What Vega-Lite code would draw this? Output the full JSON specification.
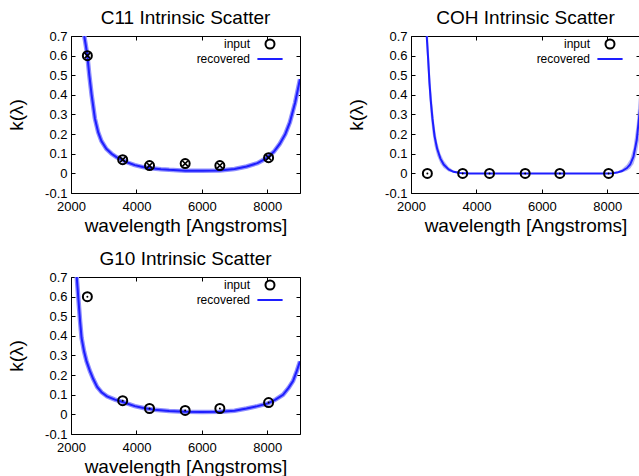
{
  "$schema": "https://vega.github.io/schema/vega-lite/v6.json",
  "padding": {"left": 7, "top": 8, "right": 0, "bottom": 0},
  "background": "white",
  "config": {
    "font": "Liberation Sans",
    "view": {"stroke": "black", "strokeWidth": 1},
    "axis": {"domain": false, "grid": false, "tickSize": -4, "tickColor": "black", "tickWidth": 1, "labelColor": "black", "labelFontSize": 13, "labelFont": "Liberation Sans", "titleFontSize": 19, "titleFontWeight": "normal", "titleFont": "Liberation Sans", "titleColor": "black", "labelFlush": false},
    "axisY": {"titlePadding": 18, "labelPadding": 8},
    "axisX": {"titlePadding": 3, "labelPadding": 11},
    "title": {"fontSize": 19, "fontWeight": "normal", "font": "Liberation Sans", "color": "black", "offset": 2},
    "legend": {"orient": "none", "legendX": 193, "legendY": 2, "labelAlign": "right", "labelOffset": -26, "labelFontSize": 12, "labelFont": "Liberation Sans", "labelColor": "black", "symbolSize": 81, "symbolStrokeWidth": 2, "rowPadding": 0, "padding": 0, "title": null}
  },
  "datasets": {
    "curves": [
      {"panel": "C11", "series": "recovered", "wavelength": 2405, "k": 0.70, "klo": 0.70, "khi": 0.70},
      {"panel": "C11", "series": "recovered", "wavelength": 2450, "k": 0.655, "klo": 0.655, "khi": 0.655},
      {"panel": "C11", "series": "recovered", "wavelength": 2500, "k": 0.60, "klo": 0.60, "khi": 0.60},
      {"panel": "C11", "series": "recovered", "wavelength": 2560, "k": 0.50, "klo": 0.50, "khi": 0.50},
      {"panel": "C11", "series": "recovered", "wavelength": 2630, "k": 0.40, "klo": 0.40, "khi": 0.40},
      {"panel": "C11", "series": "recovered", "wavelength": 2730, "k": 0.28, "klo": 0.28, "khi": 0.28},
      {"panel": "C11", "series": "recovered", "wavelength": 2830, "k": 0.21, "klo": 0.21, "khi": 0.21},
      {"panel": "C11", "series": "recovered", "wavelength": 2930, "k": 0.165, "klo": 0.165, "khi": 0.165},
      {"panel": "C11", "series": "recovered", "wavelength": 3080, "k": 0.125, "klo": 0.125, "khi": 0.125},
      {"panel": "C11", "series": "recovered", "wavelength": 3240, "k": 0.10, "klo": 0.10, "khi": 0.10},
      {"panel": "C11", "series": "recovered", "wavelength": 3400, "k": 0.082, "klo": 0.082, "khi": 0.082},
      {"panel": "C11", "series": "recovered", "wavelength": 3550, "k": 0.070, "klo": 0.070, "khi": 0.070},
      {"panel": "C11", "series": "recovered", "wavelength": 3750, "k": 0.054, "klo": 0.054, "khi": 0.054},
      {"panel": "C11", "series": "recovered", "wavelength": 3950, "k": 0.042, "klo": 0.042, "khi": 0.042},
      {"panel": "C11", "series": "recovered", "wavelength": 4200, "k": 0.032, "klo": 0.032, "khi": 0.032},
      {"panel": "C11", "series": "recovered", "wavelength": 4450, "k": 0.026, "klo": 0.026, "khi": 0.026},
      {"panel": "C11", "series": "recovered", "wavelength": 4750, "k": 0.021, "klo": 0.021, "khi": 0.021},
      {"panel": "C11", "series": "recovered", "wavelength": 5000, "k": 0.018, "klo": 0.018, "khi": 0.018},
      {"panel": "C11", "series": "recovered", "wavelength": 5500, "k": 0.014, "klo": 0.014, "khi": 0.014},
      {"panel": "C11", "series": "recovered", "wavelength": 6000, "k": 0.013, "klo": 0.013, "khi": 0.013},
      {"panel": "C11", "series": "recovered", "wavelength": 6550, "k": 0.015, "klo": 0.015, "khi": 0.015},
      {"panel": "C11", "series": "recovered", "wavelength": 7000, "k": 0.022, "klo": 0.022, "khi": 0.022},
      {"panel": "C11", "series": "recovered", "wavelength": 7370, "k": 0.035, "klo": 0.035, "khi": 0.035},
      {"panel": "C11", "series": "recovered", "wavelength": 7700, "k": 0.052, "klo": 0.052, "khi": 0.052},
      {"panel": "C11", "series": "recovered", "wavelength": 7980, "k": 0.078, "klo": 0.078, "khi": 0.078},
      {"panel": "C11", "series": "recovered", "wavelength": 8200, "k": 0.11, "klo": 0.11, "khi": 0.11},
      {"panel": "C11", "series": "recovered", "wavelength": 8380, "k": 0.15, "klo": 0.15, "khi": 0.15},
      {"panel": "C11", "series": "recovered", "wavelength": 8550, "k": 0.20, "klo": 0.20, "khi": 0.20},
      {"panel": "C11", "series": "recovered", "wavelength": 8690, "k": 0.26, "klo": 0.26, "khi": 0.26},
      {"panel": "C11", "series": "recovered", "wavelength": 8850, "k": 0.36, "klo": 0.36, "khi": 0.36},
      {"panel": "C11", "series": "recovered", "wavelength": 9000, "k": 0.48, "klo": 0.48, "khi": 0.48},

      {"panel": "COH", "series": "recovered", "wavelength": 2480, "k": 0.70, "klo": 0.62, "khi": 0.80},
      {"panel": "COH", "series": "recovered", "wavelength": 2525, "k": 0.58, "klo": 0.49, "khi": 0.69},
      {"panel": "COH", "series": "recovered", "wavelength": 2565, "k": 0.46, "klo": 0.38, "khi": 0.56},
      {"panel": "COH", "series": "recovered", "wavelength": 2605, "k": 0.37, "klo": 0.29, "khi": 0.45},
      {"panel": "COH", "series": "recovered", "wavelength": 2655, "k": 0.28, "klo": 0.21, "khi": 0.35},
      {"panel": "COH", "series": "recovered", "wavelength": 2720, "k": 0.19, "klo": 0.14, "khi": 0.24},
      {"panel": "COH", "series": "recovered", "wavelength": 2800, "k": 0.125, "klo": 0.09, "khi": 0.16},
      {"panel": "COH", "series": "recovered", "wavelength": 2900, "k": 0.075, "klo": 0.05, "khi": 0.10},
      {"panel": "COH", "series": "recovered", "wavelength": 3000, "k": 0.045, "klo": 0.028, "khi": 0.065},
      {"panel": "COH", "series": "recovered", "wavelength": 3150, "k": 0.02, "klo": 0.01, "khi": 0.032},
      {"panel": "COH", "series": "recovered", "wavelength": 3300, "k": 0.008, "klo": 0.003, "khi": 0.015},
      {"panel": "COH", "series": "recovered", "wavelength": 3500, "k": 0.002, "klo": 0.0, "khi": 0.005},
      {"panel": "COH", "series": "recovered", "wavelength": 3800, "k": 0.0, "klo": 0.0, "khi": 0.001},
      {"panel": "COH", "series": "recovered", "wavelength": 4500, "k": 0.0, "klo": 0.0, "khi": 0.0},
      {"panel": "COH", "series": "recovered", "wavelength": 5500, "k": 0.0, "klo": 0.0, "khi": 0.0},
      {"panel": "COH", "series": "recovered", "wavelength": 6500, "k": 0.0, "klo": 0.0, "khi": 0.0},
      {"panel": "COH", "series": "recovered", "wavelength": 7500, "k": 0.0, "klo": 0.0, "khi": 0.0},
      {"panel": "COH", "series": "recovered", "wavelength": 8000, "k": 0.0, "klo": 0.0, "khi": 0.001},
      {"panel": "COH", "series": "recovered", "wavelength": 8150, "k": 0.001, "klo": 0.0, "khi": 0.003},
      {"panel": "COH", "series": "recovered", "wavelength": 8300, "k": 0.004, "klo": 0.001, "khi": 0.009},
      {"panel": "COH", "series": "recovered", "wavelength": 8450, "k": 0.012, "klo": 0.005, "khi": 0.022},
      {"panel": "COH", "series": "recovered", "wavelength": 8600, "k": 0.027, "klo": 0.013, "khi": 0.045},
      {"panel": "COH", "series": "recovered", "wavelength": 8700, "k": 0.045, "klo": 0.025, "khi": 0.072},
      {"panel": "COH", "series": "recovered", "wavelength": 8800, "k": 0.085, "klo": 0.048, "khi": 0.13},
      {"panel": "COH", "series": "recovered", "wavelength": 8900, "k": 0.17, "klo": 0.10, "khi": 0.25},
      {"panel": "COH", "series": "recovered", "wavelength": 9000, "k": 0.33, "klo": 0.20, "khi": 0.46},

      {"panel": "G10", "series": "recovered", "wavelength": 2175, "k": 0.70, "klo": 0.70, "khi": 0.70},
      {"panel": "G10", "series": "recovered", "wavelength": 2230, "k": 0.58, "klo": 0.58, "khi": 0.58},
      {"panel": "G10", "series": "recovered", "wavelength": 2280, "k": 0.47, "klo": 0.47, "khi": 0.47},
      {"panel": "G10", "series": "recovered", "wavelength": 2323, "k": 0.39, "klo": 0.39, "khi": 0.39},
      {"panel": "G10", "series": "recovered", "wavelength": 2400, "k": 0.32, "klo": 0.32, "khi": 0.32},
      {"panel": "G10", "series": "recovered", "wavelength": 2476, "k": 0.27, "klo": 0.27, "khi": 0.27},
      {"panel": "G10", "series": "recovered", "wavelength": 2580, "k": 0.22, "klo": 0.22, "khi": 0.22},
      {"panel": "G10", "series": "recovered", "wavelength": 2680, "k": 0.18, "klo": 0.18, "khi": 0.18},
      {"panel": "G10", "series": "recovered", "wavelength": 2800, "k": 0.14, "klo": 0.14, "khi": 0.14},
      {"panel": "G10", "series": "recovered", "wavelength": 2933, "k": 0.113, "klo": 0.113, "khi": 0.113},
      {"panel": "G10", "series": "recovered", "wavelength": 3100, "k": 0.092, "klo": 0.092, "khi": 0.092},
      {"panel": "G10", "series": "recovered", "wavelength": 3341, "k": 0.075, "klo": 0.075, "khi": 0.075},
      {"panel": "G10", "series": "recovered", "wavelength": 3600, "k": 0.062, "klo": 0.062, "khi": 0.062},
      {"panel": "G10", "series": "recovered", "wavelength": 3951, "k": 0.042, "klo": 0.042, "khi": 0.042},
      {"panel": "G10", "series": "recovered", "wavelength": 4250, "k": 0.031, "klo": 0.031, "khi": 0.031},
      {"panel": "G10", "series": "recovered", "wavelength": 4561, "k": 0.023, "klo": 0.023, "khi": 0.023},
      {"panel": "G10", "series": "recovered", "wavelength": 5000, "k": 0.017, "klo": 0.017, "khi": 0.017},
      {"panel": "G10", "series": "recovered", "wavelength": 5476, "k": 0.013, "klo": 0.013, "khi": 0.013},
      {"panel": "G10", "series": "recovered", "wavelength": 6000, "k": 0.012, "klo": 0.012, "khi": 0.012},
      {"panel": "G10", "series": "recovered", "wavelength": 6550, "k": 0.013, "klo": 0.013, "khi": 0.013},
      {"panel": "G10", "series": "recovered", "wavelength": 7000, "k": 0.019, "klo": 0.019, "khi": 0.019},
      {"panel": "G10", "series": "recovered", "wavelength": 7366, "k": 0.030, "klo": 0.030, "khi": 0.030},
      {"panel": "G10", "series": "recovered", "wavelength": 7700, "k": 0.042, "klo": 0.042, "khi": 0.042},
      {"panel": "G10", "series": "recovered", "wavelength": 8025, "k": 0.056, "klo": 0.056, "khi": 0.056},
      {"panel": "G10", "series": "recovered", "wavelength": 8250, "k": 0.075, "klo": 0.075, "khi": 0.075},
      {"panel": "G10", "series": "recovered", "wavelength": 8482, "k": 0.10, "klo": 0.10, "khi": 0.10},
      {"panel": "G10", "series": "recovered", "wavelength": 8650, "k": 0.135, "klo": 0.135, "khi": 0.135},
      {"panel": "G10", "series": "recovered", "wavelength": 8787, "k": 0.17, "klo": 0.17, "khi": 0.17},
      {"panel": "G10", "series": "recovered", "wavelength": 8900, "k": 0.22, "klo": 0.22, "khi": 0.22},
      {"panel": "G10", "series": "recovered", "wavelength": 9000, "k": 0.27, "klo": 0.27, "khi": 0.27}
    ],
    "points": [
      {"panel": "C11", "series": "input", "wavelength": 2500, "k": 0.60},
      {"panel": "C11", "series": "input", "wavelength": 3580, "k": 0.07},
      {"panel": "C11", "series": "input", "wavelength": 4400, "k": 0.04},
      {"panel": "C11", "series": "input", "wavelength": 5490, "k": 0.05},
      {"panel": "C11", "series": "input", "wavelength": 6550, "k": 0.04},
      {"panel": "C11", "series": "input", "wavelength": 8040, "k": 0.08},
      {"panel": "COH", "series": "input", "wavelength": 2500, "k": 0.0},
      {"panel": "COH", "series": "input", "wavelength": 3580, "k": 0.0},
      {"panel": "COH", "series": "input", "wavelength": 4400, "k": 0.0},
      {"panel": "COH", "series": "input", "wavelength": 5490, "k": 0.0},
      {"panel": "COH", "series": "input", "wavelength": 6550, "k": 0.0},
      {"panel": "COH", "series": "input", "wavelength": 8040, "k": 0.0},
      {"panel": "G10", "series": "input", "wavelength": 2500, "k": 0.60},
      {"panel": "G10", "series": "input", "wavelength": 3580, "k": 0.07},
      {"panel": "G10", "series": "input", "wavelength": 4400, "k": 0.03},
      {"panel": "G10", "series": "input", "wavelength": 5490, "k": 0.02},
      {"panel": "G10", "series": "input", "wavelength": 6550, "k": 0.03},
      {"panel": "G10", "series": "input", "wavelength": 8040, "k": 0.06}
    ]
  },
  "columns": 2,
  "spacing": {"row": 13, "column": 46},
  "resolve": {
    "scale": {"x": "independent", "y": "independent", "stroke": "independent", "shape": "independent"},
    "legend": {"stroke": "independent", "shape": "independent"}
  },
  "concat": [
    {
      "title": "C11 Intrinsic Scatter",
      "width": 229, "height": 157,
      "resolve": {"axis": {"x": "independent", "y": "independent"}},
      "layer": [
        {
          "encoding": {
            "x": {"field": "wavelength", "type": "quantitative", "scale": {"domain": [2000, 9000], "nice": false, "zero": false}, "axis": {"orient": "bottom", "values": [2000, 4000, 6000, 8000], "format": "d", "title": "wavelength [Angstroms]"}},
            "y": {"field": "k", "type": "quantitative", "scale": {"domain": [-0.1, 0.7], "nice": false, "zero": false}, "axis": {"orient": "left", "values": [-0.1, 0, 0.1, 0.2, 0.3, 0.4, 0.5, 0.6, 0.7], "title": "k(λ)", "labelExpr": "datum.value < 0 ? '-' + format(-datum.value, '.1f') : (datum.value == 0 ? '0' : format(datum.value, '.1f'))"}}
          },
          "layer": [
            {"data": {"name": "curves"}, "transform": [{"filter": "datum.panel == 'C11'"}], "mark": {"type": "line", "clip": true, "color": "#9090ff", "strokeWidth": 4.5}},
            {"data": {"name": "curves"}, "transform": [{"filter": "datum.panel == 'C11'"}], "mark": {"type": "line", "clip": true, "strokeWidth": 2},
             "encoding": {"stroke": {"field": "series", "type": "nominal", "scale": {"domain": ["input", "recovered"], "range": ["black", "#1e1eff"]}, "legend": {"title": null}}}},
            {"data": {"name": "points"}, "transform": [{"filter": "datum.panel == 'C11'"}], "mark": {"type": "point", "filled": false, "strokeWidth": 2, "size": 81, "opacity": 1},
             "encoding": {"stroke": {"field": "series", "type": "nominal", "scale": {"domain": ["input", "recovered"], "range": ["black", "#1e1eff"]}, "legend": {"title": null}},
                          "shape": {"field": "series", "type": "nominal", "scale": {"domain": ["input", "recovered"], "range": ["circle", "M-2.8,0H2.8"]}, "legend": {"title": null}}}},
            {"data": {"name": "points"}, "transform": [{"filter": "datum.panel == 'C11'"}], "mark": {"type": "point", "filled": false, "strokeWidth": 1.6, "size": 64, "opacity": 1, "color": "black", "shape": "M-0.7,-0.7L0.7,0.7M-0.7,0.7L0.7,-0.7"}},
            {"data": {"name": "points"}, "transform": [{"filter": "datum.panel == 'C11'"}], "mark": {"type": "point", "filled": true, "size": 4, "opacity": 1, "color": "black", "shape": "circle"}}
          ]
        },
        {
          "data": {"name": "points"}, "transform": [{"filter": "datum.panel == 'C11'"}],
          "mark": {"type": "point", "opacity": 0},
          "encoding": {
            "x": {"field": "wavelength", "type": "quantitative", "axis": {"orient": "top", "values": [2000, 4000, 6000, 8000], "labels": false, "title": null}},
            "y": {"field": "k", "type": "quantitative", "axis": {"orient": "right", "values": [-0.1, 0, 0.1, 0.2, 0.3, 0.4, 0.5, 0.6, 0.7], "labels": false, "title": null}}
          }
        }
      ]
    },
    {
      "title": "COH Intrinsic Scatter",
      "width": 229, "height": 157,
      "resolve": {"axis": {"x": "independent", "y": "independent"}},
      "layer": [
        {
          "encoding": {
            "x": {"field": "wavelength", "type": "quantitative", "scale": {"domain": [2000, 9000], "nice": false, "zero": false}, "axis": {"orient": "bottom", "values": [2000, 4000, 6000, 8000], "format": "d", "title": "wavelength [Angstroms]"}},
            "y": {"field": "k", "type": "quantitative", "scale": {"domain": [-0.1, 0.7], "nice": false, "zero": false}, "axis": {"orient": "left", "values": [-0.1, 0, 0.1, 0.2, 0.3, 0.4, 0.5, 0.6, 0.7], "title": "k(λ)", "labelExpr": "datum.value < 0 ? '-' + format(-datum.value, '.1f') : (datum.value == 0 ? '0' : format(datum.value, '.1f'))"}}
          },
          "layer": [
            {"data": {"name": "curves"}, "transform": [{"filter": "datum.panel == 'COH'"}], "mark": {"type": "area", "clip": true, "color": "#a8a8f4", "opacity": 0.9}, "encoding": {"y": {"field": "klo", "type": "quantitative"}, "y2": {"field": "khi"}}},
            {"data": {"name": "curves"}, "transform": [{"filter": "datum.panel == 'COH'"}], "mark": {"type": "line", "clip": true, "strokeWidth": 2},
             "encoding": {"stroke": {"field": "series", "type": "nominal", "scale": {"domain": ["input", "recovered"], "range": ["black", "#1e1eff"]}, "legend": {"title": null}}}},
            {"data": {"name": "points"}, "transform": [{"filter": "datum.panel == 'COH'"}], "mark": {"type": "point", "filled": false, "strokeWidth": 2, "size": 81, "opacity": 1},
             "encoding": {"stroke": {"field": "series", "type": "nominal", "scale": {"domain": ["input", "recovered"], "range": ["black", "#1e1eff"]}, "legend": {"title": null}},
                          "shape": {"field": "series", "type": "nominal", "scale": {"domain": ["input", "recovered"], "range": ["circle", "M-2.8,0H2.8"]}, "legend": {"title": null}}}},
            {"data": {"name": "points"}, "transform": [{"filter": "datum.panel == 'COH'"}], "mark": {"type": "point", "filled": true, "size": 4, "opacity": 1, "color": "black", "shape": "circle"}}
          ]
        },
        {
          "data": {"name": "points"}, "transform": [{"filter": "datum.panel == 'COH'"}],
          "mark": {"type": "point", "opacity": 0},
          "encoding": {
            "x": {"field": "wavelength", "type": "quantitative", "axis": {"orient": "top", "values": [2000, 4000, 6000, 8000], "labels": false, "title": null}},
            "y": {"field": "k", "type": "quantitative", "axis": {"orient": "right", "values": [-0.1, 0, 0.1, 0.2, 0.3, 0.4, 0.5, 0.6, 0.7], "labels": false, "title": null}}
          }
        }
      ]
    },
    {
      "title": "G10 Intrinsic Scatter",
      "width": 229, "height": 157,
      "resolve": {"axis": {"x": "independent", "y": "independent"}},
      "layer": [
        {
          "encoding": {
            "x": {"field": "wavelength", "type": "quantitative", "scale": {"domain": [2000, 9000], "nice": false, "zero": false}, "axis": {"orient": "bottom", "values": [2000, 4000, 6000, 8000], "format": "d", "title": "wavelength [Angstroms]"}},
            "y": {"field": "k", "type": "quantitative", "scale": {"domain": [-0.1, 0.7], "nice": false, "zero": false}, "axis": {"orient": "left", "values": [-0.1, 0, 0.1, 0.2, 0.3, 0.4, 0.5, 0.6, 0.7], "title": "k(λ)", "labelExpr": "datum.value < 0 ? '-' + format(-datum.value, '.1f') : (datum.value == 0 ? '0' : format(datum.value, '.1f'))"}}
          },
          "layer": [
            {"data": {"name": "curves"}, "transform": [{"filter": "datum.panel == 'G10'"}], "mark": {"type": "line", "clip": true, "color": "#9090ff", "strokeWidth": 4.5}},
            {"data": {"name": "curves"}, "transform": [{"filter": "datum.panel == 'G10'"}], "mark": {"type": "line", "clip": true, "strokeWidth": 2},
             "encoding": {"stroke": {"field": "series", "type": "nominal", "scale": {"domain": ["input", "recovered"], "range": ["black", "#1e1eff"]}, "legend": {"title": null}}}},
            {"data": {"name": "points"}, "transform": [{"filter": "datum.panel == 'G10'"}], "mark": {"type": "point", "filled": false, "strokeWidth": 2, "size": 81, "opacity": 1},
             "encoding": {"stroke": {"field": "series", "type": "nominal", "scale": {"domain": ["input", "recovered"], "range": ["black", "#1e1eff"]}, "legend": {"title": null}},
                          "shape": {"field": "series", "type": "nominal", "scale": {"domain": ["input", "recovered"], "range": ["circle", "M-2.8,0H2.8"]}, "legend": {"title": null}}}},
            {"data": {"name": "points"}, "transform": [{"filter": "datum.panel == 'G10'"}], "mark": {"type": "point", "filled": true, "size": 4, "opacity": 1, "color": "black", "shape": "circle"}}
          ]
        },
        {
          "data": {"name": "points"}, "transform": [{"filter": "datum.panel == 'G10'"}],
          "mark": {"type": "point", "opacity": 0},
          "encoding": {
            "x": {"field": "wavelength", "type": "quantitative", "axis": {"orient": "top", "values": [2000, 4000, 6000, 8000], "labels": false, "title": null}},
            "y": {"field": "k", "type": "quantitative", "axis": {"orient": "right", "values": [-0.1, 0, 0.1, 0.2, 0.3, 0.4, 0.5, 0.6, 0.7], "labels": false, "title": null}}
          }
        }
      ]
    }
  ]
}
